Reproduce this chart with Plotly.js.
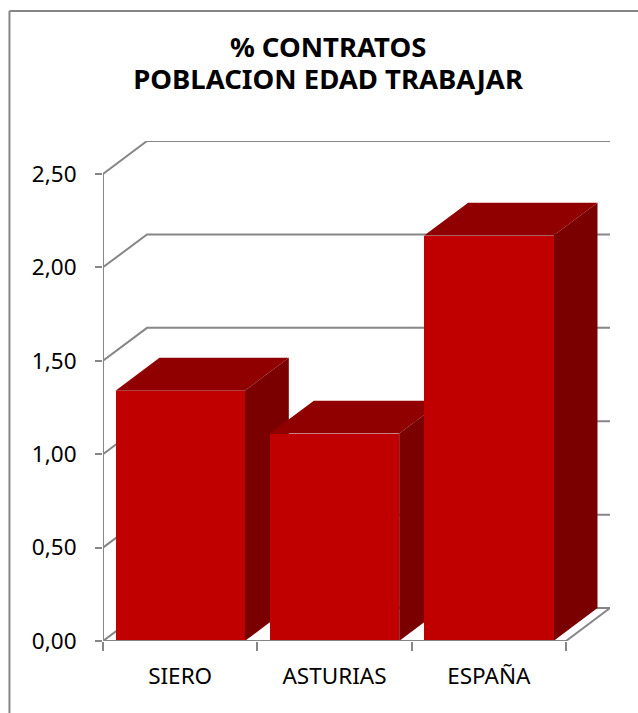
<!DOCTYPE html>
<html><head><meta charset="utf-8">
<script src="https://cdn.plot.ly/plotly-3.0.1.min.js"></script>
<style>html,body{margin:0;padding:0;background:#fff}</style></head>
<body><div id="chart" style="width:638px;height:713px"></div>
<script>
const categories = ['SIERO', 'ASTURIAS', 'ESPAÑA'];
const values = [1.34, 1.11, 2.17];
const yTicks = [0, 0.5, 1, 1.5, 2, 2.5];
const yLabels = ['0,00', '0,50', '1,00', '1,50', '2,00', '2,50'];
const titleLines = ['% CONTRATOS', 'POBLACION EDAD TRABAJAR'];

const FONT = '"Noto Sans", sans-serif';
const GRAY = '#868686';
const LW = 2;
const depthX = 0.285, depthY = 0.176, barW = 0.838;
const xMin = -0.5, xMax = 2.5, yMax = 2.5;
const rangeX = [xMin, xMax + depthX], rangeY = [0, yMax + depthY];

function gridTrace() {
  const xs = [], ys = [];
  yTicks.forEach(v => {
    xs.push(xMin, xMin + depthX, xMax + depthX, null);
    ys.push(v, v + depthY, v + depthY, null);
  });
  xs.push(xMax, xMax + depthX, null); ys.push(0, depthY, null);
  return {x: xs, y: ys, mode: 'lines', line: {color: GRAY, width: LW}, hoverinfo: 'skip', cliponaxis: false, showlegend: false};
}
const faces = [];
values.forEach((v, i) => {
  const l = i - barW / 2, r = i + barW / 2;
  faces.push({x: [r, r + depthX, r + depthX, r, r], y: [0, depthY, v + depthY, v, 0], fill: 'toself', fillcolor: '#7a0000', mode: 'none', hoverinfo: 'skip', showlegend: false, cliponaxis: false});
  faces.push({x: [l, r, r + depthX, l + depthX, l], y: [v, v, v + depthY, v + depthY, v], fill: 'toself', fillcolor: '#900000', mode: 'none', hoverinfo: 'skip', showlegend: false, cliponaxis: false});
});
const fronts = {type: 'bar', x: [0, 1, 2], y: values, width: barW, marker: {color: '#c00000', line: {width: 0}}, xaxis: 'x2', yaxis: 'y2', showlegend: false};
const axisLines = {x: [xMin, xMin, null, xMin, xMax], y: [yMax, 0, null, 0, 0], xaxis: 'x2', yaxis: 'y2', mode: 'lines', line: {color: GRAY, width: LW}, hoverinfo: 'skip', showlegend: false, cliponaxis: false};

const layout = {
  width: 638, height: 713, autosize: false,
  paper_bgcolor: '#fff', plot_bgcolor: 'rgba(0,0,0,0)',
  margin: {l: 102.7, r: 28.3, t: 141, b: 72},
  bargap: 0, showlegend: false,
  font: {family: FONT, color: '#000', size: 22.5},
  title: {text: titleLines.map(t => '<span style="font-size:27.5px">' + t + '</span>').join('<br>'), font: {family: FONT, size: 24.6, color: '#000', weight: 700}, x: 0.444, xanchor: 'center', xref: 'paper', y: 0.92, yanchor: 'top'},
  xaxis: {range: rangeX, showgrid: false, zeroline: false, showline: false, tickmode: 'array', tickvals: [0, 1, 2], ticktext: categories, ticks: '', ticklabelstandoff: 19, tickfont: {family: FONT, size: 22.5}, minor: {tickmode: 'array', tickvals: [-0.5, 0.5, 1.5, 2.5], ticks: 'outside', ticklen: 9, tickcolor: GRAY, tickwidth: LW}},
  yaxis: {range: rangeY, showgrid: false, zeroline: false, showline: false, tickmode: 'array', tickvals: yTicks, ticktext: yLabels, ticks: 'outside', ticklen: 7, tickcolor: GRAY, tickwidth: LW, ticklabelstandoff: 14, ticklabelshift: -2.5, tickfont: {family: FONT, size: 22.5}},
  xaxis2: {range: rangeX, overlaying: 'x', visible: false},
  yaxis2: {range: rangeY, overlaying: 'y', visible: false},
  shapes: [
    {type: 'line', xref: 'paper', yref: 'paper', x0: -0.1845, x1: -0.1845, y0: -0.2, y1: 1.26, line: {color: GRAY, width: 2}},
    {type: 'line', xref: 'paper', yref: 'paper', x0: -0.1845, x1: 1.06, y0: 1.26, y1: 1.26, line: {color: GRAY, width: 2}}
  ]
};
Plotly.newPlot('chart', [gridTrace(), ...faces, fronts, axisLines], layout, {displayModeBar: false, staticPlot: true});
</script></body></html>
